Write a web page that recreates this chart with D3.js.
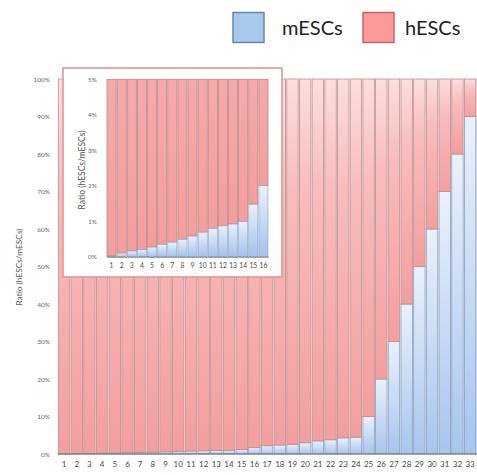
<!DOCTYPE html>
<html><head><meta charset="utf-8">
<script src="https://cdn.jsdelivr.net/npm/d3@7"></script>
<style>html,body{margin:0;padding:0;background:#fff;overflow:hidden}svg{display:block}</style>
</head><body>
<script>
// ---- data ----
const seriesNames = ["mESCs", "hESCs"];
const mainLabels = ["1","2","3","4","5","6","7","8","9","10","11","12","13","14","15","16","17","18","19","20","21","22","23","24","25","26","27","28","29","30","31","32","33","34"];
const mainMESC = [0.02,0.1,0.16,0.2,0.27,0.35,0.41,0.49,0.58,0.69,0.8,0.87,0.92,0.99,1.2,1.7,2.2,2.4,2.6,3.0,3.5,3.8,4.3,4.5,10,20,30,40,50,60,70,80,90,100];
const mainHESC = [99.98,99.9,99.84,99.8,99.73,99.65,99.59,99.51,99.42,99.31,99.2,99.13,99.08,99.01,98.8,98.3,97.8,97.6,97.4,97.0,96.5,96.2,95.7,95.5,90,80,70,60,50,40,30,20,10,0];
const mainTicks = [0,10,20,30,40,50,60,70,80,90,100];
const insetLabels = ["1","2","3","4","5","6","7","8","9","10","11","12","13","14","15","16"];
const insetMESC = [0.02,0.1,0.16,0.2,0.27,0.35,0.41,0.49,0.58,0.69,0.8,0.87,0.92,0.99,1.48,2.0];
const insetTicks = [0,1,2,3,4,5];
const yTitle = "Ratio (hESCs/mESCs)";

const W = 477, H = 475;
const svg = d3.select("body").append("svg").attr("width", W).attr("height", H);
const defs = svg.append("defs");
function grad(id, stops) {
  const g = defs.append("linearGradient").attr("id", id).attr("x1", 0).attr("y1", 0).attr("x2", 0).attr("y2", 1);
  stops.forEach(s => g.append("stop").attr("offset", s[0]).attr("stop-color", s[1]));
}
grad("pinkG", [[0, "#fddede"], [0.3, "#f9bcbc"], [1, "#f49e9e"]]);
grad("blueG", [[0, "#eaf1fc"], [1, "#a7c5ee"]]);
grad("pinkI", [[0, "#f7a9a9"], [1, "#f59d9d"]]);
grad("blueI", [[0, "#e9f0fc"], [1, "#a3c2ee"]]);

const font = "Lato, 'Open Sans', sans-serif";

// ---- main chart ----
const x = d3.scaleBand().domain(mainLabels).range([57.7, 57.7 + 12.69 * mainLabels.length]).paddingInner(0.1).paddingOuter(0.05);
const y = d3.scaleLinear().domain([0, 100]).range([454, 79]);

const rows = mainLabels.map((c, i) => ({ cat: c, mESCs: mainMESC[i], hESCs: mainHESC[i] }));
const stack = d3.stack().keys(seriesNames)(rows);
const fills = { mESCs: "url(#blueG)", hESCs: "url(#pinkG)" };
const strokes = { mESCs: "#8a9cb8", hESCs: "#b99090" };

const gMain = svg.append("g");
stack.forEach(layer => {
  gMain.append("g").selectAll("rect").data(layer).join("rect")
    .attr("x", d => x(d.data.cat))
    .attr("y", d => y(d[1]))
    .attr("width", x.bandwidth())
    .attr("height", d => Math.max(0, y(d[0]) - y(d[1])))
    .attr("fill", fills[layer.key])
    .attr("stroke", strokes[layer.key])
    .attr("stroke-width", 0.8);
});

const xAxis = d3.axisBottom(x).tickSize(0).tickPadding(7);
const gx = svg.append("g").attr("transform", "translate(0,454)").call(xAxis);
gx.select(".domain").attr("stroke", "#6b6b6b").attr("d", "M57.7,0H477");
gx.selectAll("text").attr("font-family", font).attr("font-size", 8).attr("fill", "#4a4a4a");

const yAxis = d3.axisLeft(y).tickValues(mainTicks).tickSize(0).tickPadding(7).tickFormat(d => d + "%");
const gy = svg.append("g").attr("transform", "translate(57,0)").call(yAxis);
gy.select(".domain").remove();
gy.selectAll("text").attr("font-family", font).attr("font-size", 6.5).attr("fill", "#666");

svg.append("text").attr("transform", "translate(22,267) rotate(-90)")
  .attr("text-anchor", "middle").attr("font-family", font).attr("font-size", 8.3).attr("fill", "#555").text(yTitle);

// ---- inset ----
svg.append("rect").attr("x", 63).attr("y", 68).attr("width", 219).attr("height", 209)
  .attr("fill", "#fff").attr("stroke", "#e49595").attr("stroke-width", 1.6);

const xi = d3.scaleBand().domain(insetLabels).range([106.7, 268.3]).paddingInner(0.1).paddingOuter(0.03);
const yi = d3.scaleLinear().domain([0, 5]).range([256.7, 79.3]);
const gIn = svg.append("g");
gIn.append("g").selectAll("rect").data(insetLabels).join("rect")
  .attr("x", d => xi(d)).attr("y", yi(5)).attr("width", xi.bandwidth())
  .attr("height", (d, i) => yi(insetMESC[i]) - yi(5))
  .attr("fill", "url(#pinkI)").attr("stroke", "#b48a8a").attr("stroke-width", 0.8);
gIn.append("g").selectAll("rect").data(insetLabels).join("rect")
  .attr("x", d => xi(d)).attr("y", (d, i) => yi(insetMESC[i])).attr("width", xi.bandwidth())
  .attr("height", (d, i) => yi(0) - yi(insetMESC[i]))
  .attr("fill", "url(#blueI)").attr("stroke", "#8ea0bb").attr("stroke-width", 0.6);

const gxi = svg.append("g").attr("transform", "translate(0,256.7)").call(d3.axisBottom(xi).tickSize(0).tickPadding(6));
gxi.select(".domain").attr("stroke", "#7a7a7a");
gxi.selectAll("text").attr("font-family", font).attr("font-size", 6.8).attr("fill", "#4a4a4a");
const gyi = svg.append("g").attr("transform", "translate(104,0)").call(d3.axisLeft(yi).tickValues(insetTicks).tickSize(0).tickPadding(7).tickFormat(d => d + "%"));
gyi.select(".domain").remove();
gyi.selectAll("text").attr("font-family", font).attr("font-size", 6.5).attr("fill", "#666");
svg.append("text").attr("transform", "translate(85,170) rotate(-90)")
  .attr("text-anchor", "middle").attr("font-family", font).attr("font-size", 8.5).attr("fill", "#555").text(yTitle);

// ---- legend ----
const legend = [
  { name: seriesNames[0], x: 233, fill: "#a8c8ec", stroke: "#5f83a9", tx: 282 },
  { name: seriesNames[1], x: 363, fill: "#fa9a9a", stroke: "#c8605d", tx: 405 }
];
const gl = svg.append("g");
legend.forEach(l => {
  gl.append("rect").attr("x", l.x).attr("y", 12.5).attr("width", 31).attr("height", 30)
    .attr("fill", l.fill).attr("stroke", l.stroke).attr("stroke-width", 1.4);
  gl.append("text").attr("x", l.tx).attr("y", 35).attr("font-family", font).attr("font-size", 20)
    .attr("fill", "#222").text(l.name);
});
</script>
</body></html>
